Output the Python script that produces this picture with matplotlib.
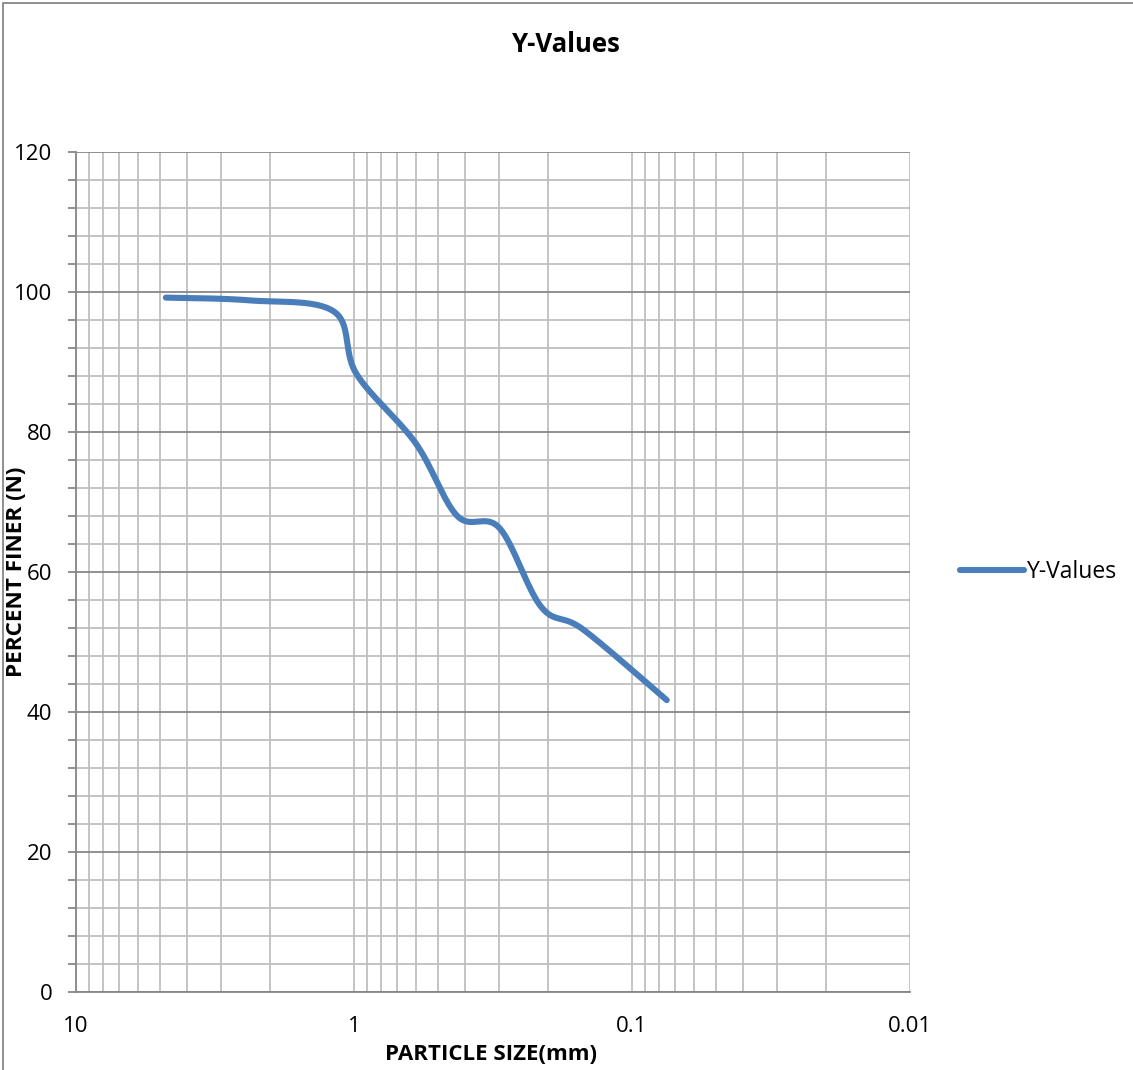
import numpy as np
import matplotlib
matplotlib.use("Agg")
import matplotlib.pyplot as plt
from matplotlib.ticker import FixedLocator, NullFormatter, FixedFormatter
from matplotlib.patches import Rectangle

# ---- data ----
particle_size = [4.75, 2.36, 1.18, 0.98, 0.6, 0.425, 0.3, 0.212, 0.15, 0.075]
percent_finer = [99.2, 98.8, 97.2, 88.3, 78.4, 68.0, 66.3, 55.0, 51.8, 41.7]
series_name = "Y-Values"
x_tick_values = [10, 1, 0.1, 0.01]
x_tick_labels = ["10", "1", "0.1", "0.01"]
y_tick_values = [0, 20, 40, 60, 80, 100, 120]

FONT = ["Open Sans", "DejaVu Sans"]
plt.rcParams['font.family'] = FONT


def excel_smooth(xs, ys, n=60):
    """Excel-like smoothed line: cubic Bezier with control points from neighbours/6,
    computed in (log10 x, y) space."""
    lx = np.log10(np.asarray(xs, float))
    y = np.asarray(ys, float)
    P = np.column_stack([lx, y])
    out = []
    m = len(P)
    for i in range(m - 1):
        p0, p3 = P[i], P[i + 1]
        prev = P[i - 1] if i > 0 else P[i]
        nxt = P[i + 2] if i + 2 < m else P[i + 1]
        c1 = p0 + (p3 - prev) / 6.0
        c2 = p3 - (nxt - p0) / 6.0
        t = np.linspace(0, 1, n)[:, None]
        seg = ((1 - t) ** 3) * p0 + 3 * ((1 - t) ** 2) * t * c1 + 3 * (1 - t) * t ** 2 * c2 + t ** 3 * p3
        out.append(seg if i == 0 else seg[1:])
    out = np.vstack(out)
    return 10 ** out[:, 0], out[:, 1]


W, H = 1133, 1070
fig = plt.figure(figsize=(W / 100, H / 100), dpi=100)

# chart-area border (right and bottom edges fall outside the picture)
fig.patches.append(Rectangle((3 / W, -0.1), 1.2, (H - 3) / H + 0.1, transform=fig.transFigure,
                             fill=False, edgecolor="#878787", linewidth=1.3))

left, right, top, bottom = 76, 910, 152, 992
ax = fig.add_axes([left / W, 1 - bottom / H, (right - left) / W, (bottom - top) / H])

ax.set_xscale("log")
ax.set_xlim(10, 0.01)
ax.set_ylim(0, 120)

sx, sy = excel_smooth(particle_size, percent_finer)
ax.plot(sx, sy, color="#4A7EBB", linewidth=4.4, solid_capstyle="round",
        solid_joinstyle="round", label=series_name, zorder=3)

# ticks / grid
ax.xaxis.set_major_locator(FixedLocator(x_tick_values))
ax.xaxis.set_major_formatter(FixedFormatter(x_tick_labels))
minor_x = [m * 10.0 ** e for e in (-2, -1, 0) for m in range(2, 10)]
ax.xaxis.set_minor_locator(FixedLocator(minor_x))
ax.xaxis.set_minor_formatter(NullFormatter())
ax.yaxis.set_major_locator(FixedLocator(y_tick_values))
ax.yaxis.set_minor_locator(FixedLocator([v for v in range(0, 121, 4) if v % 20]))

ax.grid(True, which="both", axis="x", color="#BFBFBF", linewidth=1.3)
ax.grid(True, which="major", axis="y", color="#878787", linewidth=1.3)
ax.grid(True, which="minor", axis="y", color="#BFBFBF", linewidth=1.3)
ax.set_axisbelow(True)

ax.tick_params(axis="x", which="both", length=0, pad=17, labelsize=16)
ax.tick_params(axis="y", which="both", direction="out", length=6, width=1.3,
               color="#878787", pad=11, labelsize=16)

for s in ("top", "right"):
    ax.spines[s].set_visible(False)
for s in ("left", "bottom"):
    ax.spines[s].set_color("#878787")
    ax.spines[s].set_linewidth(1.3)

fig.text(491 / W, 1 - 1054 / H, "PARTICLE SIZE(mm)", ha="center", va="center",
         fontsize=16, fontweight="bold")
fig.text(17 / W, 1 - 572 / H, "PERCENT FINER (N)", ha="center", va="center",
         rotation=90, fontsize=16.2, fontweight="bold", zorder=5)

fig.text(566 / W, 1 - 45 / H, "Y-Values", ha="center", va="center",
         fontsize=18.5, fontweight="bold")

ax.legend(loc="center left", bbox_to_anchor=((960 - left) / (right - left), 0.5),
          frameon=False, fontsize=16.5, handlelength=2.8, handletextpad=0.1,
          borderpad=0, borderaxespad=0)

fig.savefig("out.png", dpi=100)
